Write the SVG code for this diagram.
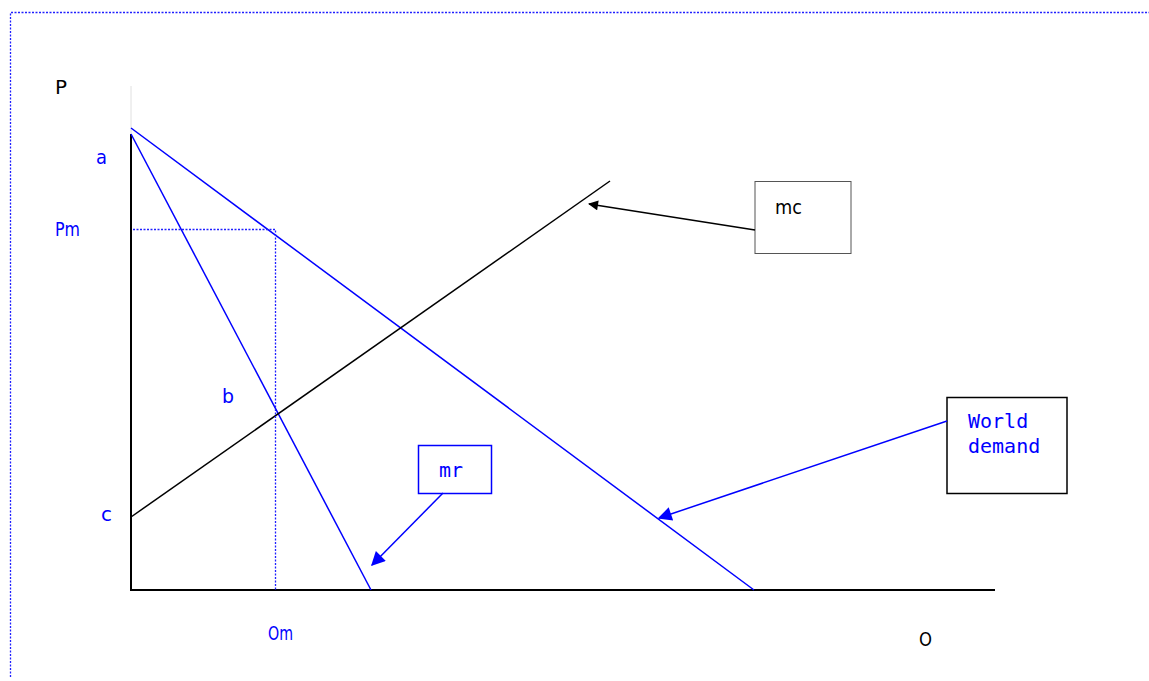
<svg xmlns="http://www.w3.org/2000/svg" width="1149" height="681" viewBox="0 0 1149 681">
<defs>
<marker id="ab" viewBox="0 0 10 10" refX="9" refY="5" markerWidth="12" markerHeight="10" markerUnits="userSpaceOnUse" orient="auto"><path d="M0,0 L10,5 L0,10 z" fill="#000"/></marker>
<marker id="au" viewBox="0 0 10 10" refX="9" refY="5" markerWidth="18" markerHeight="14" markerUnits="userSpaceOnUse" orient="auto"><path d="M0,0 L10,5 L0,10 z" fill="#0000ff"/></marker>
</defs>
<style>
.lbl{font-family:"DejaVu Sans",sans-serif;font-size:20px;}
.mono{font-family:"DejaVu Sans Mono",monospace;font-size:20px;fill:#0000ff;}
.blue{fill:#0000ff;}
.dot{stroke:#2020ff;stroke-width:1.3;stroke-dasharray:2,1.5;fill:none;}
</style>
<rect width="1149" height="681" fill="#fff"/>
<g id="frame"><path class="dot" d="M10.5,677 L10.5,12.5 L1149,12.5"/></g>
<g id="axes">
<line x1="131" y1="86" x2="131" y2="134" stroke="#e0e0e0" stroke-width="1"/>
<line x1="131" y1="134" x2="131" y2="590" stroke="#000" stroke-width="2"/>
<line x1="130" y1="590" x2="995" y2="590" stroke="#000" stroke-width="2"/>
</g>
<g id="curves">
<line x1="131" y1="128" x2="754" y2="590" stroke="#0000ff" stroke-width="1.5"/>
<line x1="131" y1="134" x2="371" y2="590" stroke="#0000ff" stroke-width="1.5"/>
<line x1="131" y1="517" x2="610" y2="181" stroke="#000" stroke-width="1.5"/>
<path class="dot" d="M133,229.5 L275.5,229.5 L275.5,590"/>
</g>
<g id="labels">
<text class="lbl" x="55" y="94" textLength="12" lengthAdjust="spacingAndGlyphs">P</text>
<text class="lbl blue" x="96" y="164" textLength="11" lengthAdjust="spacingAndGlyphs">a</text>
<text class="lbl blue" x="55" y="236" textLength="25" lengthAdjust="spacingAndGlyphs">Pm</text>
<text class="lbl blue" x="222" y="403" textLength="12" lengthAdjust="spacingAndGlyphs">b</text>
<text class="lbl blue" x="101" y="521" textLength="11" lengthAdjust="spacingAndGlyphs">c</text>
<text class="lbl blue" x="268" y="640" textLength="25" lengthAdjust="spacingAndGlyphs">Om</text>
<text class="lbl" x="919" y="646" textLength="13" lengthAdjust="spacingAndGlyphs">O</text>
</g>
<g id="node-mc">
<rect x="755" y="181.5" width="96" height="72" fill="#fff" stroke="#555" stroke-width="1"/>
<text class="lbl" x="775" y="214" textLength="27" lengthAdjust="spacingAndGlyphs">mc</text>
</g>
<g id="node-mr">
<rect x="418.5" y="445.5" width="73" height="48" fill="#fff" stroke="#0000ff" stroke-width="1.5"/>
<text class="mono" x="439" y="477">mr</text>
</g>
<g id="node-world">
<rect x="947" y="397.5" width="120" height="96" fill="#fff" stroke="#000" stroke-width="1.5"/>
<text class="mono" x="968" y="428">World</text>
<text class="mono" x="968" y="453">demand</text>
</g>
<g id="connectors">
<line x1="755" y1="230" x2="589" y2="204" stroke="#000" stroke-width="1.5" marker-end="url(#ab)"/>
<line x1="443" y1="493" x2="372" y2="565" stroke="#0000ff" stroke-width="1.5" marker-end="url(#au)"/>
<line x1="947" y1="421" x2="659" y2="518" stroke="#0000ff" stroke-width="1.5" marker-end="url(#au)"/>
</g>
</svg>
